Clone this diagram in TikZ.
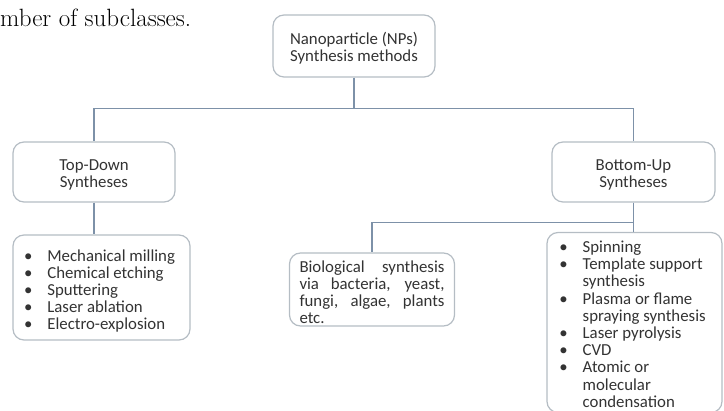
\documentclass[tikz,border=0pt]{standalone}
\usepackage{fontspec}
\usetikzlibrary{positioning, calc}
\newfontfamily\boxfont{Carlito}
\definecolor{boxline}{rgb}{0.71,0.74,0.77}
\definecolor{linkcol}{rgb}{0.49,0.57,0.66}
\definecolor{boxtext}{rgb}{0.2,0.2,0.2}
\newcommand\topgap{\rule{0pt}{17pt}}
\newcommand\fullline[1]{\makebox[145pt][s]{#1}}
\tikzset{%
  box/.style = {rectangle, draw=boxline, fill=white, rounded corners=11pt,
                line width=1.2pt, inner sep=0pt, text=boxtext,
                font=\boxfont\fontsize{16.8}{17}\selectfont},
  catbox/.style = {box, align=center},
  listbox/.style = {box, align=left},
  conn/.style = {draw=linkcol, line width=1.6pt},
  caption/.style = {anchor=base west, inner sep=0pt,
                    font=\fontsize{25}{30}\selectfont}
  }

\begin{document}
\begin{tikzpicture}[x=1pt, y=-1pt]
  \useasboundingbox (0,0) rectangle (724,411);

  \node (cap) [caption] at (0,27) {mber of subclasses.};

  \node (root) [catbox, minimum width=162pt, minimum height=62pt] at (354,46)
    {\topgap Nanoparticle (NPs)\\Synthesis methods};
  \node (td) [catbox, minimum width=162pt, minimum height=60pt] at (94,172)
    {\topgap Top-Down\\Syntheses};
  \node (bu) [catbox, minimum width=163pt, minimum height=60pt] at (633.5,172)
    {\topgap Bottom-Up\\Syntheses};

  \node (tdlist) [listbox, minimum width=177pt, minimum height=105pt] at (101.5,287.5)
    {\hspace*{-4pt}\begin{tabular}{@{}l@{\hspace{15pt}}l@{}}
      \noalign{\vskip 9pt}
      \textbullet & Mechanical milling\\
      \textbullet & Chemical etching\\
      \textbullet & Sputtering\\
      \textbullet & Laser ablation\\
      \textbullet & Electro-explosion
    \end{tabular}};
  \node (bio) [listbox, minimum width=165pt, minimum height=73pt] at (372,289.5)
    {\topgap\fullline{Biological synthesis}\\
     \fullline{via bacteria, yeast,}\\
     \fullline{fungi, algae, plants}\\
     etc.};
  \node (bulist) [listbox, minimum width=175pt, minimum height=172pt] at (634.5,322.5)
    {\fontsize{16.8}{17.2}\selectfont
     \hspace*{-4pt}\begin{tabular}{@{}l@{\hspace{15pt}}l@{}}
      \noalign{\vskip 8pt}
      \textbullet & Spinning\\
      \textbullet & Template support\\
                  & synthesis\\
      \textbullet & Plasma or flame\\
                  & spraying synthesis\\
      \textbullet & Laser pyrolysis\\
      \textbullet & CVD\\
      \textbullet & Atomic or\\
                  & molecular\\
                  & condensation
    \end{tabular}};

  \draw[conn] (root.south) -- ++(0,31) coordinate (hub) -| (td.north);
  \draw[conn] (hub) -| (bu.north);
  \draw[conn] (td.south) -- (td.south |- tdlist.north);
  \draw[conn] (bu.south) -- (bu.south |- bulist.north);
  \draw[conn] (bu.south) -- ++(0,20) coordinate (split) -| (bio.north);
\end{tikzpicture}
\end{document}
